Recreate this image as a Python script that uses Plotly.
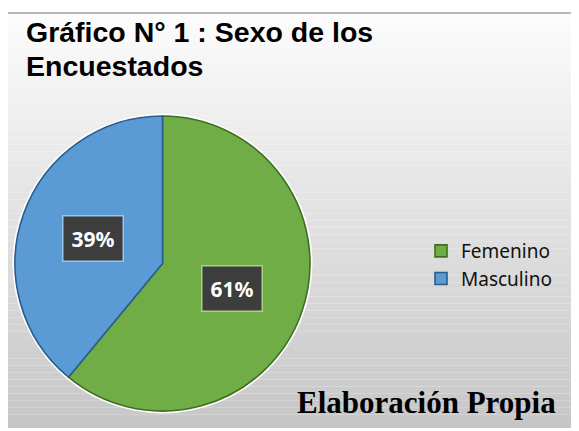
import math
import plotly.graph_objects as go

# datos del gráfico
sexo = ["Femenino", "Masculino"]
porcentaje = [61, 39]
colores = ["#70AD47", "#5B9BD5"]
bordes = ["#3F6F22", "#2A5C8C"]
marco_etiqueta = ["#A9D18E", "#9DC3E6"]

# la página deja 8 px de margen; la figura ocupa el resto de la ventana
O = 8
W, H = 579 - O, 431 - O


def fx(p):
    return (p - O) / W


def fy(p):
    return 1 - (p - O) / H


dom_x = [fx(15), fx(310)]
dom_y = [fy(412), fy(115)]

fig = go.Figure()

fig.add_trace(go.Pie(
    labels=sexo,
    values=porcentaje,
    sort=False,
    direction="clockwise",
    rotation=0,
    textinfo="none",
    hoverinfo="label+percent",
    marker=dict(colors=colores, line=dict(color=bordes, width=1.6)),
    domain=dict(x=dom_x, y=dom_y),
))

# fondo degradado (decoración)
shapes = []
top, bottom = 13, 428
n = 60
c0, c1 = 252, 198
for i in range(n):
    y0 = top + (bottom - top) * i / n
    y1 = top + (bottom - top) * (i + 1) / n
    g = round(c0 + (c1 - c0) * (i + 0.5) / n)
    shapes.append(dict(
        type="rect", xref="paper", yref="paper", layer="below",
        x0=0, x1=1, y0=fy(y1), y1=fy(y0),
        fillcolor=f"rgb({g},{g},{g})", line=dict(width=0),
    ))
shapes.append(dict(type="line", xref="paper", yref="paper", layer="below",
                   x0=0, x1=1, y0=fy(top), y1=fy(top),
                   line=dict(color="#a0a0a0", width=1.5)))

# halo blanco alrededor del pastel
cx = (15 + 310) / 2
cy = (115 + 412) / 2
R = min(310 - 15, 412 - 115) / 2
rh = R + 2.5
shapes.append(dict(type="circle", xref="paper", yref="paper", layer="below",
                   x0=fx(cx - rh), x1=fx(cx + rh),
                   y0=fy(cy + rh), y1=fy(cy - rh),
                   fillcolor="white", line=dict(width=0)))

annotations = []
total = sum(porcentaje)
acum = 0
for v, mc in zip(porcentaje, marco_etiqueta):
    mid = (acum + v / 2) / total
    acum += v
    ang = mid * 2 * math.pi
    px_ = cx + 0.5 * R * math.sin(ang)
    py_ = cy - 0.5 * R * math.cos(ang)
    annotations.append(dict(
        x=fx(px_), y=fy(py_), xref="paper", yref="paper",
        text=f"<b>{round(v / total * 100)}%</b>", showarrow=False,
        font=dict(family="Noto Sans", size=21, color="white"),
        bgcolor="#3d3d3d", bordercolor=mc, borderwidth=1.5, borderpad=8,
        xanchor="center", yanchor="middle",
    ))

annotations.append(dict(
    x=fx(24), y=fy(14), xref="paper", yref="paper",
    text="<b>Gráfico N° 1 : Sexo de los</b>", showarrow=False,
    font=dict(family="Liberation Sans, Arial", size=28.5, color="black"),
    xanchor="left", yanchor="top",
))
annotations.append(dict(
    x=fx(24), y=fy(48), xref="paper", yref="paper",
    text="<b>Encuestados</b>", showarrow=False,
    font=dict(family="Liberation Sans, Arial", size=28.5, color="black"),
    xanchor="left", yanchor="top",
))
annotations.append(dict(
    x=fx(426), y=fy(402), xref="paper", yref="paper",
    text="<b>Elaboración Propia</b>", showarrow=False,
    font=dict(family="Liberation Serif, Times New Roman", size=31, color="black"),
    xanchor="center", yanchor="middle",
))

fig.update_layout(
    width=W, height=H,
    margin=dict(l=0, r=0, t=0, b=0),
    paper_bgcolor="white",
    plot_bgcolor="rgba(0,0,0,0)",
    shapes=shapes,
    annotations=annotations,
    showlegend=True,
    legend=dict(
        x=fx(421), y=fy(265), xanchor="left", yanchor="middle",
        bgcolor="rgba(0,0,0,0)",
        font=dict(family="Noto Sans", size=19, color="#111111"),
    ),
)

fig.write_html("out.html")
